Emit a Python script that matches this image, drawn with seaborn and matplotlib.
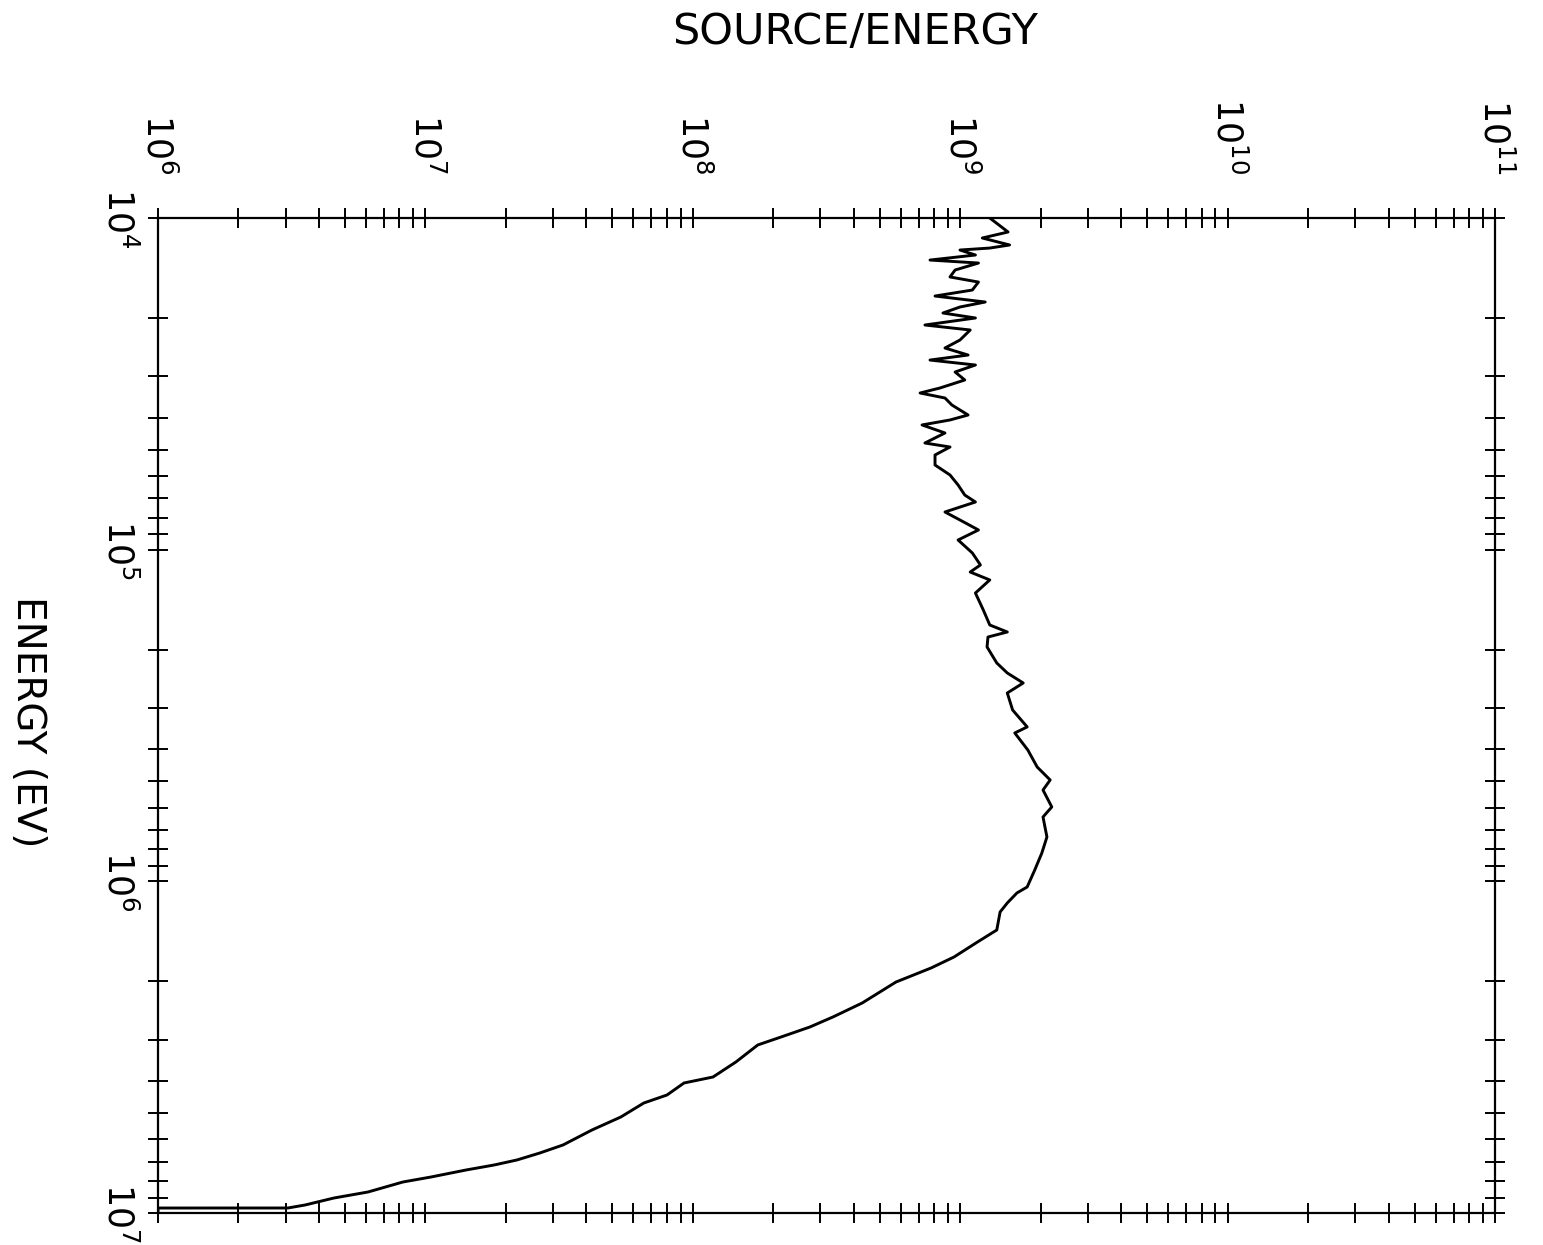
import matplotlib
matplotlib.use("Agg")
import matplotlib.pyplot as plt
import matplotlib.ticker as mticker
import numpy as np
import pandas as pd
import seaborn as sns

# ---- data ----
energy_ev = [
    1.000e4, 1.102e4, 1.149e4, 1.206e4, 1.232e4, 1.249e4, 1.293e4, 1.339e4, 1.367e4, 1.435e4,
    1.506e4, 1.560e4, 1.649e4, 1.719e4, 1.792e4, 1.855e4, 1.934e4, 2.002e4, 2.102e4, 2.176e4,
    2.333e4, 2.466e4, 2.589e4, 2.681e4, 2.775e4, 2.913e4, 3.079e4, 3.255e4, 3.370e4, 3.489e4,
    3.663e4, 3.926e4, 4.064e4, 4.207e4, 4.448e4, 4.769e4, 4.903e4, 5.183e4, 5.555e4, 5.955e4,
    6.383e4, 6.843e4, 7.183e4, 7.699e4, 8.138e4, 8.722e4, 9.350e4,
    1.023e5, 1.112e5, 1.168e5, 1.234e5, 1.351e5, 1.520e5, 1.687e5, 1.771e5, 1.834e5, 1.965e5,
    2.196e5, 2.354e5, 2.523e5, 2.705e5, 3.043e5, 3.424e5, 3.570e5, 4.018e5, 4.521e5, 4.948e5,
    5.304e5, 5.967e5, 6.397e5, 7.350e5, 8.212e5, 9.243e5, 1.040e6, 1.084e6, 1.162e6, 1.237e6,
    1.402e6, 1.524e6, 1.691e6, 1.825e6, 2.012e6, 2.327e6, 2.565e6, 2.749e6, 2.946e6, 3.114e6,
    3.504e6, 3.890e6, 4.055e6, 4.407e6, 4.659e6, 5.135e6, 5.618e6, 6.236e6, 6.592e6, 6.920e6,
    7.164e6, 7.418e6, 7.788e6, 8.063e6, 8.643e6, 9.011e6, 9.458e6, 9.658e6, 9.660e6, 1.000e7,
]
source_per_energy = [
    1.29e9, 1.51e9, 1.21e9, 1.53e9, 1.29e9, 9.98e8, 1.14e9, 7.71e8, 1.17e9, 9.57e8,
    9.16e8, 1.17e9, 1.11e9, 8.05e8, 1.24e9, 9.98e8, 8.62e8, 1.14e9, 7.38e8, 1.09e9,
    9.98e8, 8.77e8, 1.07e9, 7.71e8, 1.14e9, 9.57e8, 1.04e9, 8.40e8, 7.08e8, 8.77e8,
    9.31e8, 1.07e9, 9.16e8, 7.20e8, 8.77e8, 7.38e8, 9.16e8, 8.05e8, 8.05e8, 9.16e8,
    9.82e8, 1.04e9, 1.14e9, 8.77e8, 9.98e8, 1.17e9, 9.82e8,
    1.11e9, 1.19e9, 1.09e9, 1.29e9, 1.14e9, 1.22e9, 1.29e9, 1.50e9, 1.27e9, 1.26e9,
    1.37e9, 1.50e9, 1.72e9, 1.50e9, 1.57e9, 1.78e9, 1.60e9, 1.79e9, 1.94e9, 2.17e9,
    2.04e9, 2.20e9, 2.04e9, 2.11e9, 2.02e9, 1.90e9, 1.78e9, 1.63e9, 1.50e9, 1.41e9,
    1.37e9, 1.16e9, 9.48e8, 7.78e8, 5.75e8, 4.30e8, 3.34e8, 2.74e8, 2.14e8, 1.75e8,
    1.45e8, 1.19e8, 9.27e7, 8.01e7, 6.56e7, 5.38e7, 4.20e7, 3.27e7, 2.68e7, 2.20e7,
    1.81e7, 1.42e7, 1.05e7, 8.24e6, 6.10e6, 4.55e6, 3.55e6, 3.06e6, 1.00e6, 1.00e6,
]
source_ticks = [1e6, 1e7, 1e8, 1e9, 1e10, 1e11]
source_tick_labels = [r"$10^{6}$", r"$10^{7}$", r"$10^{8}$", r"$10^{9}$", r"$10^{10}$", r"$10^{11}$"]
energy_ticks = [1e4, 1e5, 1e6, 1e7]
energy_tick_labels = [r"$10^{4}$", r"$10^{5}$", r"$10^{6}$", r"$10^{7}$"]
x_title = "SOURCE/ENERGY"
y_title = "ENERGY (EV)"

df = pd.DataFrame({"energy": energy_ev, "source": source_per_energy})

sns.set_theme(style="white")
plt.rcParams["font.family"] = ["DejaVu Sans"]
plt.rcParams["mathtext.fontset"] = "dejavusans"

fig = plt.figure(figsize=(15.43, 12.45), dpi=100)
ax = fig.add_axes([0.1024, 0.0257, 0.8665, 0.7992])

sns.lineplot(data=df, x="source", y="energy", sort=False, estimator=None,
             color="black", linewidth=2.1, ax=ax, legend=False)

ax.set_xscale("log")
ax.set_yscale("log")
ax.set_xlim(1e6, 1e11)
ax.set_ylim(1e7, 1e4)

for spine in ax.spines.values():
    spine.set_color("black")
    spine.set_linewidth(1.6)

ax.xaxis.set_major_locator(mticker.FixedLocator(source_ticks))
ax.yaxis.set_major_locator(mticker.FixedLocator(energy_ticks))
ax.xaxis.set_minor_locator(mticker.LogLocator(base=10, subs=np.arange(2, 10), numticks=50))
ax.yaxis.set_minor_locator(mticker.LogLocator(base=10, subs=np.arange(2, 10), numticks=50))
ax.xaxis.set_minor_formatter(mticker.NullFormatter())
ax.yaxis.set_minor_formatter(mticker.NullFormatter())
ax.set_xticks(source_ticks)
ax.set_xticklabels(source_tick_labels)
ax.set_yticks(energy_ticks)
ax.set_yticklabels(energy_tick_labels)

ax.tick_params(which="both", direction="inout", length=15, width=1.4, color="black",
               labelcolor="black",
               top=True, bottom=True, left=True, right=True,
               labeltop=True, labelbottom=False, labelleft=True, labelright=False)
ax.tick_params(axis="x", which="major", pad=24, labelsize=25, labelrotation=-90)
ax.tick_params(axis="y", which="major", pad=8, labelsize=25, labelrotation=-90)
for lab in ax.get_yticklabels():
    lab.set_verticalalignment("center")

ax.set_xlabel("")
ax.set_ylabel("")
fig.text(0.554, 0.974, x_title, ha="center", va="center", fontsize=31, color="black")
fig.text(0.018, 0.42, y_title, ha="center", va="center", rotation=-90, fontsize=28, color="black")

fig.savefig("out.png", dpi=100, facecolor="white")
